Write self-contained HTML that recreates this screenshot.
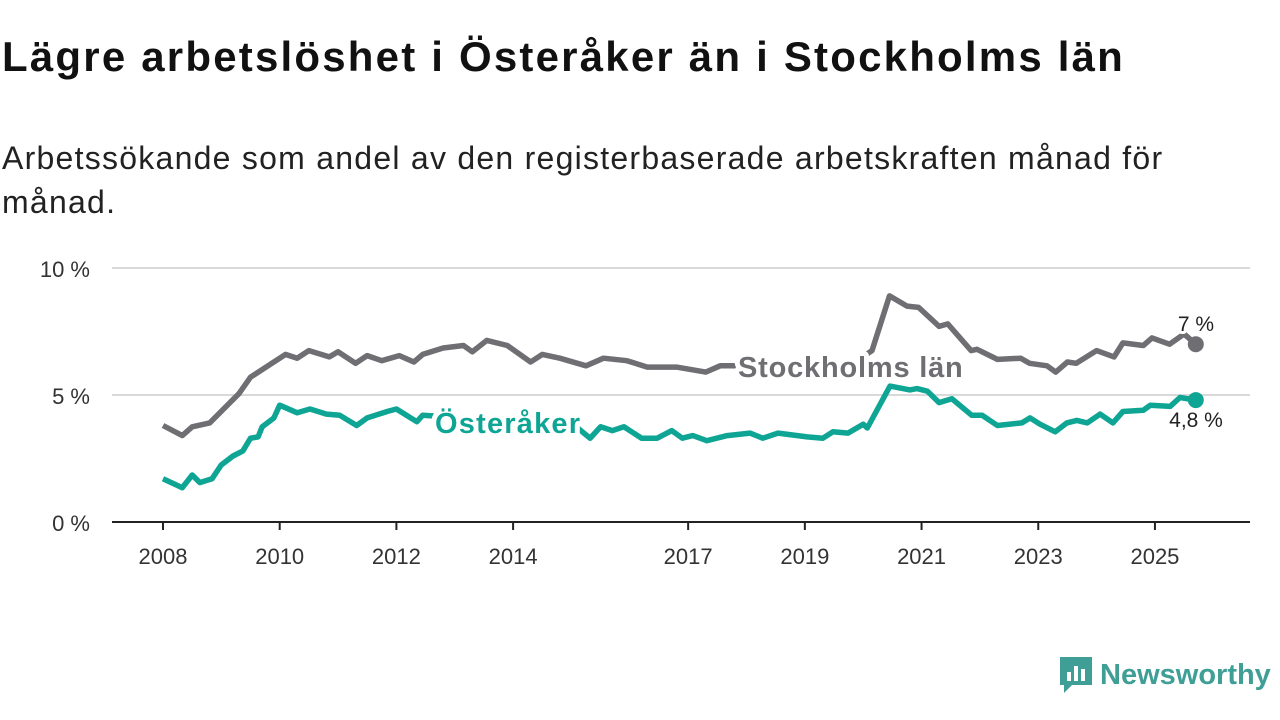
<!DOCTYPE html>
<html><head><meta charset="utf-8">
<style>
body{margin:0;background:#fff;width:1280px;height:720px;overflow:hidden;font-family:"Liberation Sans","DejaVu Sans",sans-serif;}
h1{position:absolute;left:2px;top:33px;margin:0;font-size:42px;font-weight:bold;color:#111;letter-spacing:2.2px;white-space:nowrap}
.sub{position:absolute;left:2px;top:136px;margin:0;font-size:32px;color:#222;line-height:44px;width:1250px;letter-spacing:1.25px;white-space:nowrap}
svg{position:absolute;left:0;top:0}
</style></head>
<body>
<h1>Lägre arbetslöshet i Österåker än i Stockholms län</h1>
<p class="sub">Arbetssökande som andel av den registerbaserade arbetskraften månad för<br>månad.</p>
<svg id="chart" width="1280" height="720"></svg>
<script>
const xTicks=[2008,2010,2012,2014,2017,2019,2021,2023,2025];
const yTicks=[0,5,10];
const yTickLabels=["0 %","5 %","10 %"];
const sthlmYears=[0,0.33,0.5,0.8,1.3,1.5,1.8,2.1,2.3,2.5,2.85,3.0,3.3,3.5,3.75,4.05,4.3,4.45,4.8,5.15,5.3,5.55,5.9,6.3,6.5,6.8,7.25,7.55,7.95,8.3,8.8,9.3,9.55,9.75,10.9,11.8,12.15,12.45,12.75,12.95,13.3,13.45,13.85,13.95,14.3,14.7,14.85,15.15,15.3,15.5,15.65,16.0,16.3,16.45,16.8,16.95,17.25,17.5,17.7];
const sthlmVals=[3.8,3.4,3.75,3.9,5.05,5.7,6.15,6.6,6.45,6.75,6.5,6.7,6.25,6.55,6.35,6.55,6.3,6.6,6.85,6.95,6.7,7.15,6.95,6.3,6.6,6.45,6.15,6.45,6.35,6.1,6.1,5.9,6.15,6.15,6.1,6.2,6.75,8.9,8.5,8.45,7.7,7.8,6.75,6.8,6.4,6.45,6.25,6.15,5.9,6.3,6.25,6.75,6.5,7.05,6.95,7.25,7.0,7.4,7.0];
const ostYears=[0,0.33,0.5,0.63,0.84,1.0,1.2,1.37,1.5,1.63,1.7,1.9,2.0,2.3,2.52,2.8,3.03,3.32,3.5,3.84,4.0,4.35,4.45,5.78,7.0,7.32,7.5,7.7,7.9,8.2,8.47,8.72,8.9,9.08,9.32,9.67,10.06,10.28,10.54,11.04,11.31,11.48,11.74,12.0,12.07,12.46,12.8,12.92,13.1,13.3,13.52,13.86,14.04,14.3,14.72,14.86,15.03,15.29,15.49,15.66,15.84,16.06,16.28,16.45,16.8,16.92,17.26,17.43,17.7];
const ostVals=[1.7,1.35,1.85,1.55,1.7,2.25,2.6,2.8,3.3,3.35,3.75,4.1,4.6,4.3,4.45,4.25,4.2,3.8,4.1,4.35,4.45,3.95,4.2,4.0,3.9,3.3,3.75,3.6,3.75,3.3,3.3,3.6,3.3,3.4,3.2,3.4,3.5,3.3,3.5,3.35,3.3,3.55,3.5,3.85,3.7,5.35,5.2,5.25,5.15,4.7,4.85,4.2,4.2,3.8,3.9,4.1,3.85,3.55,3.9,4.0,3.9,4.25,3.9,4.35,4.4,4.6,4.55,4.9,4.8];
const NS="http://www.w3.org/2000/svg";
const svg=document.getElementById('chart');
const X=t=>163+t*58.35;
const XY=y=>163+(y-2008)*58.35;
const Y=v=>522-v*25.4;
function mk(tag,attrs,parent){const e=document.createElementNS(NS,tag);for(const k in attrs)e.setAttribute(k,attrs[k]);(parent||svg).appendChild(e);return e;}
yTicks.forEach((v,i)=>{
  if(v>0){const g=mk('line',{x1:112,x2:1250,y1:Y(v),y2:Y(v),stroke:'#d9d9d9','stroke-width':2});
  
  }
  const t=mk('text',{x:90,y:Y(v)+9,'text-anchor':'end','font-size':22,fill:'#333'});
  t.textContent=yTickLabels[i];
  
  
});
const ax=mk('line',{x1:112,x2:1250,y1:522,y2:522,stroke:'#222','stroke-width':2});


xTicks.forEach(yr=>{
  const tk=mk('line',{x1:XY(yr),x2:XY(yr),y1:522,y2:530,stroke:'#222','stroke-width':2});
  
  
  const t=mk('text',{x:XY(yr),y:564,'text-anchor':'middle','font-size':22,fill:'#333'});
  t.textContent=yr;
  
  
});
function line(xs,vs,color,name){
  const d=xs.map((t,i)=>(i?'L':'M')+X(t).toFixed(1)+' '+Y(vs[i]).toFixed(1)).join(' ');
  const p=mk('path',{d:d,fill:'none',stroke:color,'stroke-width':5.5,'stroke-linejoin':'round'});
  
  
  const n=xs.length-1;
  const c=mk('circle',{cx:X(xs[n]),cy:Y(vs[n]),r:8,fill:color});
  
  
}
line(sthlmYears,sthlmVals,'#6f6e73','stockholm-line');
line(ostYears,ostVals,'#0fa594','osteraker-line');
function lab(txt,x,y,color,name,size,bold,anchor,ls){
  const t=mk('text',{x:x,y:y,'font-size':size,'font-weight':bold?'bold':'normal',fill:color,stroke:'#fff','stroke-width':bold?10:6,'paint-order':'stroke','stroke-linejoin':'round','text-anchor':anchor||'start','letter-spacing':ls||0});
  t.textContent=txt;
  
  
}
lab('Stockholms län',738,377,'#6f6e73','stockholm-label',29,true,'start',0.8);
lab('Österåker',435,433,'#0fa594','osteraker-label',29,true,'start',1.2);
lab('7 %',1196,331,'#222','stockholm-end-value',21,false,'middle');
lab('4,8 %',1196,427,'#222','osteraker-end-value',21,false,'middle');
</script>
<div style="position:absolute;left:1058px;top:655px;display:flex;align-items:center">
  <svg width="36" height="40" style="position:static" viewBox="0 0 36 40"><path d="M2 2h32v28H14l-8 8v-8H2z" fill="#3f9e95"/><rect x="9" y="17" width="4" height="9" fill="#fff"/><rect x="16" y="11" width="4" height="15" fill="#fff"/><rect x="23" y="14" width="4" height="12" fill="#fff"/></svg>
  <span style="font-size:29px;font-weight:bold;color:#3f9e95;margin-left:6px">Newsworthy</span>
</div>
</body></html>
